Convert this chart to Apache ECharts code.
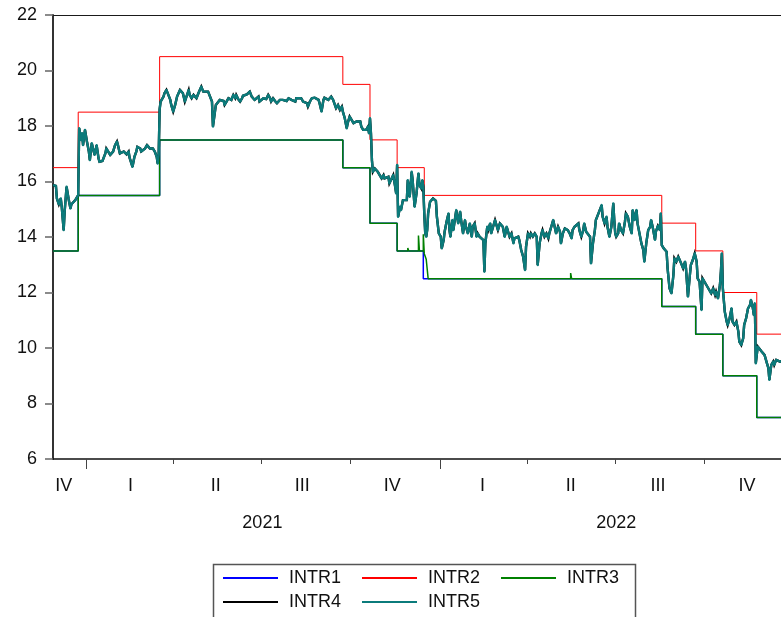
<!DOCTYPE html>
<html>
<head>
<meta charset="utf-8">
<script src="https://cdn.jsdelivr.net/npm/echarts@6/dist/echarts.min.js"></script>
<style>
  html, body { margin: 0; padding: 0; background: #ffffff; }
  #chart { width: 781px; height: 617px; }
</style>
</head>
<body>
<div id="chart"></div>
<script>
// ---- visible date window ----
const sampleStart = '2020-11-28';
const sampleEnd = '2022-12-19';

// ---- corridor series: date on which each level takes effect ----
const intr2Dates = ['2020-11-28','2020-12-24','2021-03-18','2021-09-23','2021-10-21','2021-11-18','2021-12-16','2022-08-18','2022-09-22','2022-10-20','2022-11-24','2022-12-30'];
const intr2Levels = [16.5, 18.5, 20.5, 19.5, 17.5, 16.5, 15.5, 14.5, 13.5, 12.0, 10.5, 10.5];

const intr1Dates = ['2020-11-28','2020-12-24','2021-03-18','2021-09-23','2021-10-21','2021-11-18','2021-12-15','2022-08-18','2022-09-22','2022-10-20','2022-11-24','2022-12-30'];
const intr1Levels = [13.5, 15.5, 17.5, 16.5, 14.5, 13.5, 12.5, 11.5, 10.5, 9.0, 7.5, 7.5];

const intr3Dates = ['2020-11-28','2020-12-24','2021-03-18','2021-09-23','2021-10-21','2021-11-18','2021-11-29','2021-11-30','2021-12-10','2021-12-11','2021-12-15','2021-12-16','2021-12-18','2021-12-20','2022-05-16','2022-05-17','2022-08-18','2022-09-22','2022-10-20','2022-11-24','2022-12-30'];
const intr3Levels = [13.5, 15.5, 17.5, 16.5, 14.5, 13.5, 13.6, 13.5, 14.05, 13.5, 14.1, 13.4, 13.2, 12.5, 12.7, 12.5, 11.5, 10.5, 9.0, 7.5, 7.5];

// ---- market rate: [days since sampleStart, rate] ----
const intr5Obs = [
  [0,15.87],[3,15.84],[4,15.39],[6,15.18],[8,15.39],[9,15.09],[11,14.25],[12,14.91],[14,15.81],[16,15.39],[18,15.03],[19,15.18],[21,15.15],[23,15.33],[24,15.39],[26,15.51],
  [27,17.92],[29,17.49],[30,17.74],[31,17.31],[33,17.86],[34,17.92],[35,17.44],[37,17.08],[38,16.77],[39,17.08],[40,17.38],[42,17.08],[43,16.96],[45,17.31],[47,16.83],[48,16.71],[51,16.74],[54,17.01],[55,17.19],[57,17.19],[59,16.96],[62,17.08],[64,17.31],[66,17.44],[67,17.31],[69,17.01],[71,16.96],[73,17.08],[74,17.05],[76,16.98],[78,17.08],[79,16.86],[81,16.89],[82,16.53],[84,16.89],[86,17.08],[87,17.25],[88,17.31],[90,17.19],[91,17.08],[93,17.01],[95,17.19],[97,17.31],[98,17.38],[100,17.19],[102,17.13],[103,17.19],[105,17.08],[107,16.89],[108,16.65],[109,16.95],
  [110,18.60],[111,18.88],[114,19.06],[115,19.18],[117,19.30],[119,19.12],[121,18.94],[122,18.76],[124,18.52],[126,18.76],[128,19.06],[129,19.12],[131,19.30],[133,19.36],[134,19.18],[136,18.88],[138,18.82],[140,19.30],[141,19.12],[143,19.00],[145,19.12],[146,19.06],[148,19.00],[150,19.18],[152,19.24],[153,19.42],[155,19.24],[157,19.24],[160,19.24],[162,19.18],[164,18.88],[165,17.98],[167,17.98],[168,18.76],[170,18.76],[172,18.94],[174,18.97],[176,18.90],[177,18.76],[179,18.88],[181,19.00],[183,19.06],[184,18.94],[186,19.12],[188,19.00],[189,19.12],[191,18.97],[193,18.88],[195,19.00],[196,19.09],[198,19.06],[200,19.14],[201,19.18],[203,19.24],[205,19.06],[207,19.12],[208,18.94],[210,19.00],[212,19.06],[213,18.88],[215,18.94],[217,19.00],[219,18.94],[220,18.97],[222,19.12],[224,19.00],[225,18.88],[227,19.00],[229,18.90],[231,18.82],[232,18.88],[234,18.94],[236,19.00],[237,18.94],[239,18.97],[241,18.90],[243,19.00],[246,18.94],[250,18.88],[251,19.00],[253,18.94],[256,19.00],[258,18.88],[260,18.94],[262,18.82],[263,18.70],[265,18.88],[267,19.00],[270,19.02],[274,18.94],[275,18.82],[277,18.52],[279,18.94],[280,19.02],[282,19.02],[284,18.94],[286,19.00],[287,19.06],[289,18.94],
  [291,18.88],[292,18.64],[294,18.76],[296,18.58],[298,18.70],[299,18.52],[301,18.28],[303,17.92],[304,18.10],[306,18.34],[308,18.22],[310,18.10],[311,18.04],[313,18.16],[315,18.10],[317,18.16],[318,17.98],[320,17.86],[322,17.80],[323,17.86],[325,17.98],[326,17.74],[327,18.28],[328,17.74],
  [329,16.77],[330,16.35],[332,16.47],[334,16.53],[335,16.35],[336,16.29],[337,16.35],[339,16.11],[341,16.23],[342,16.11],[344,16.05],[346,16.17],[347,15.93],[349,15.99],[351,16.23],[353,15.81],[354,15.57],[355,16.60],
  [356,14.73],[358,15.09],[359,14.97],[361,15.33],[363,15.39],[365,15.33],[366,16.05],[368,15.45],[370,16.35],[371,16.05],[373,15.09],[375,15.57],[377,16.29],[378,15.87],[380,15.75],[381,16.05],[382,15.81],
  [383,14.85],[384,14.13],[385,14.01],[386,14.25],[387,14.85],[389,15.27],[390,15.33],[392,15.39],[394,15.45],[395,15.30],[396,14.73],[398,14.13],[400,14.01],[401,13.59],[403,13.89],[404,14.19],[406,14.55],[408,14.85],[409,14.25],[410,14.01],[412,14.61],[413,14.25],[414,14.49],[416,14.97],[418,14.49],[420,14.91],[421,14.61],[423,14.13],[425,14.61],[426,14.37],[428,14.13],[430,14.49],[432,14.01],[433,14.37],[435,14.49],[437,14.01],[438,14.13],[440,14.01],[442,13.95],[444,13.89],[445,12.75],[446,13.77],[448,14.37],[449,14.25],[451,14.49],[452,14.13],[454,14.37],[456,14.61],[457,14.67],[459,14.25],[461,14.49],[462,14.49],[464,14.37],[466,14.01],[468,14.37],[469,14.25],[471,14.01],[473,14.13],[475,13.77],[476,13.95],[478,13.89],[480,14.01],[481,13.89],[483,13.53],[485,13.29],[487,12.81],[488,13.65],[490,14.13],[492,14.01],[493,14.13],[495,14.01],[497,14.13],[499,14.01],[500,12.99],[502,13.77],[504,14.13],[505,14.25],[507,14.01],[509,14.13],[511,13.95],[512,14.13],[514,14.37],[516,14.61],[517,14.55],[519,14.13],[521,14.37],[523,14.19],[524,13.77],[526,14.13],[528,14.31],[530,14.37],[531,14.25],[533,14.13],[535,13.95],[536,14.25],[538,14.37],[540,14.43],[542,14.49],[543,14.25],[545,14.01],[547,14.25],[548,14.49],[550,14.19],[552,14.13],[554,14.01],[555,13.05],[557,13.77],[559,14.25],[560,14.61],[562,14.79],[564,14.97],[566,15.15],[567,14.73],[569,14.49],[571,14.73],[572,14.37],[574,14.01],[576,14.37],[578,15.21],[579,14.61],[580,14.13],[581,14.01],[583,14.13],[584,14.49],[586,14.25],[588,14.13],[590,14.55],[591,14.85],[593,14.73],[595,14.37],[597,14.13],[598,14.97],[600,14.61],[602,14.97],[603,14.49],[605,14.13],[607,13.77],[609,13.53],[610,13.11],[612,13.77],[614,14.25],[616,14.37],[617,14.61],[619,14.30],[621,13.90],[622,14.20],[624,14.40],[626,14.25],[627,14.85],
  [628,13.71],[630,13.59],[633,13.47],[634,12.87],[636,12.15],[638,11.97],[640,12.63],[641,13.23],[643,13.11],[645,13.29],[646,13.35],[648,13.05],[650,12.87],[652,13.11],[653,12.87],[655,11.85],[657,12.63],[658,12.99],[660,13.17],[662,13.41],[664,13.11],[665,12.51],[667,12.39],[669,11.37],[670,12.51],[672,12.45],[674,12.27],[676,12.21],[677,12.09],[679,11.97],[681,12.15],[683,11.91],[684,12.03],[686,11.79],[688,12.27],[689,12.75],[690,13.41],[691,12.15],[693,11.31],[695,10.95],[696,10.83],[698,11.07],[700,11.43],[701,10.95],[703,10.83],[705,10.95],[707,10.59],[708,10.23],[710,10.11],[712,10.35],[713,10.83],[715,11.07],[717,11.43],[719,11.55],[720,11.73],[722,11.43],[723,11.19],[724,11.61],[725,9.45],[727,10.05],[729,9.99],[731,9.87],[732,9.93],[734,9.75],[736,9.51],[738,9.27],[739,8.85],[741,9.39],[743,9.51],[744,9.39],[746,9.57],[748,9.63],[750,9.51],[753,9.55],[756,9.50],[760,9.52]
];
// INTR4 runs day for day with INTR5
const intr4Obs = intr5Obs;

// ---- axis labelling ----
const quarterTickDates = ['2021-04-01','2021-07-01','2021-10-01','2022-04-01','2022-07-01','2022-10-01'];
const yearTickDates = ['2021-01-01','2022-01-01'];
const quarterLabelDates = ['2020-12-09','2021-02-16','2021-05-15','2021-08-12','2021-11-13','2022-02-14','2022-05-16','2022-08-14','2022-11-14'];
const quarterLabels = ['IV','I','II','III','IV','I','II','III','IV'];
const yearLabelDates = ['2021-07-02','2022-07-02'];
const yearLabels = ['2021','2022'];

const seriesNames = ['INTR1','INTR2','INTR3','INTR4','INTR5'];
const seriesColors = ['#0000ff','#ff0000','#008000','#000000','#0b7b7b'];

// ---- helpers: dates are handled as UTC milliseconds on a numeric axis ----
function toTime(s) {
  const p = s.split('-').map(Number);
  return Date.UTC(p[0], p[1] - 1, p[2]);
}
const startParts = sampleStart.split('-').map(Number);
function dayToTime(d) {
  return Date.UTC(startParts[0], startParts[1] - 1, startParts[2] + d);
}
function zipDates(dates, vals) {
  return dates.map((s, i) => [toTime(s), vals[i]]);
}
const quarterLabelMap = {};
quarterLabelDates.forEach((s, i) => { quarterLabelMap[toTime(s)] = quarterLabels[i]; });
const yearLabelMap = {};
yearLabelDates.forEach((s, i) => { yearLabelMap[toTime(s)] = yearLabels[i]; });

const FONT = 'Liberation Sans, Arial, Helvetica, sans-serif';
const xMin = toTime(sampleStart);
const xMax = toTime(sampleEnd);

const chart = echarts.init(document.getElementById('chart'), null, { renderer: 'canvas' });

const stepSeries = (name, color, width, data) => ({
  name, type: 'line', step: 'end', data,
  showSymbol: false, symbol: 'none', animation: false,
  lineStyle: { color, width }, itemStyle: { color }
});

chart.setOption({
  animation: false,
  backgroundColor: '#ffffff',
  grid: { left: 53, top: 15, right: 0, bottom: 158, show: false },
  xAxis: [
    {
      // quarters
      type: 'value', min: xMin, max: xMax, position: 'bottom', scale: true,
      axisLine: { show: true, onZero: false, lineStyle: { color: '#111', width: 1.5 } },
      axisTick: { show: true, customValues: quarterTickDates.map(toTime), length: 5, lineStyle: { color: '#444', width: 1 } },
      axisLabel: {
        show: true, customValues: quarterLabelDates.map(toTime),
        formatter: v => quarterLabelMap[v] || '',
        fontSize: 18, fontFamily: FONT, color: '#111', margin: 18
      },
      splitLine: { show: false }
    },
    {
      // years
      type: 'value', min: xMin, max: xMax, position: 'bottom', scale: true,
      axisLine: { show: false, onZero: false },
      axisTick: { show: true, customValues: yearTickDates.map(toTime), length: 10, lineStyle: { color: '#444', width: 1 } },
      axisLabel: {
        show: true, customValues: yearLabelDates.map(toTime),
        formatter: v => yearLabelMap[v] || '',
        fontSize: 18, fontFamily: FONT, color: '#111', margin: 55
      },
      splitLine: { show: false }
    },
    {
      // top frame line
      type: 'value', min: xMin, max: xMax, position: 'top', scale: true,
      axisLine: { show: true, onZero: false, lineStyle: { color: '#1a1a1a', width: 1 } },
      axisTick: { show: false }, axisLabel: { show: false }, splitLine: { show: false }
    }
  ],
  yAxis: {
    type: 'value', min: 6, max: 22, interval: 2,
    axisLine: { show: true, lineStyle: { color: '#333', width: 2 } },
    axisTick: { show: true, length: 8, lineStyle: { color: '#666', width: 1.5 } },
    axisLabel: { fontSize: 18, fontFamily: FONT, color: '#111', margin: 16 },
    splitLine: { show: false }
  },
  legend: [
    {
      data: seriesNames.slice(0, 3), left: 223, top: 569, padding: 0,
      icon: 'rect', itemWidth: 55, itemHeight: 2, itemGap: 21,
      itemStyle: { borderWidth: 0 },
      textStyle: { fontSize: 18, fontFamily: FONT, color: '#111', padding: [0, 0, 0, 6] }
    },
    {
      data: seriesNames.slice(3), left: 223, top: 593, padding: 0,
      icon: 'rect', itemWidth: 55, itemHeight: 2, itemGap: 21,
      itemStyle: { borderWidth: 0 },
      textStyle: { fontSize: 18, fontFamily: FONT, color: '#111', padding: [0, 0, 0, 6] }
    }
  ],
  graphic: [
    {
      type: 'rect', left: 211, top: 562, silent: true,
      shape: { width: 422, height: 90 },
      style: { fill: 'none', stroke: '#555', lineWidth: 1.5 }
    }
  ],
  series: [
    stepSeries(seriesNames[0], seriesColors[0], 1.5, zipDates(intr1Dates, intr1Levels)),
    stepSeries(seriesNames[1], seriesColors[1], 1, zipDates(intr2Dates, intr2Levels)),
    stepSeries(seriesNames[2], seriesColors[2], 1.5, zipDates(intr3Dates, intr3Levels)),
    {
      name: seriesNames[3], type: 'line', showSymbol: false, symbol: 'none', animation: false,
      data: intr4Obs.map(o => [dayToTime(o[0]), o[1]]),
      lineStyle: { color: seriesColors[3], width: 2.4, join: 'miter', miterLimit: 4 },
      itemStyle: { color: seriesColors[3] }
    },
    {
      name: seriesNames[4], type: 'line', showSymbol: false, symbol: 'none', animation: false,
      data: intr5Obs.map(o => [dayToTime(o[0]), o[1]]),
      lineStyle: { color: seriesColors[4], width: 2.4, join: 'round' },
      itemStyle: { color: seriesColors[4] }
    }
  ]
});
</script>
</body>
</html>
